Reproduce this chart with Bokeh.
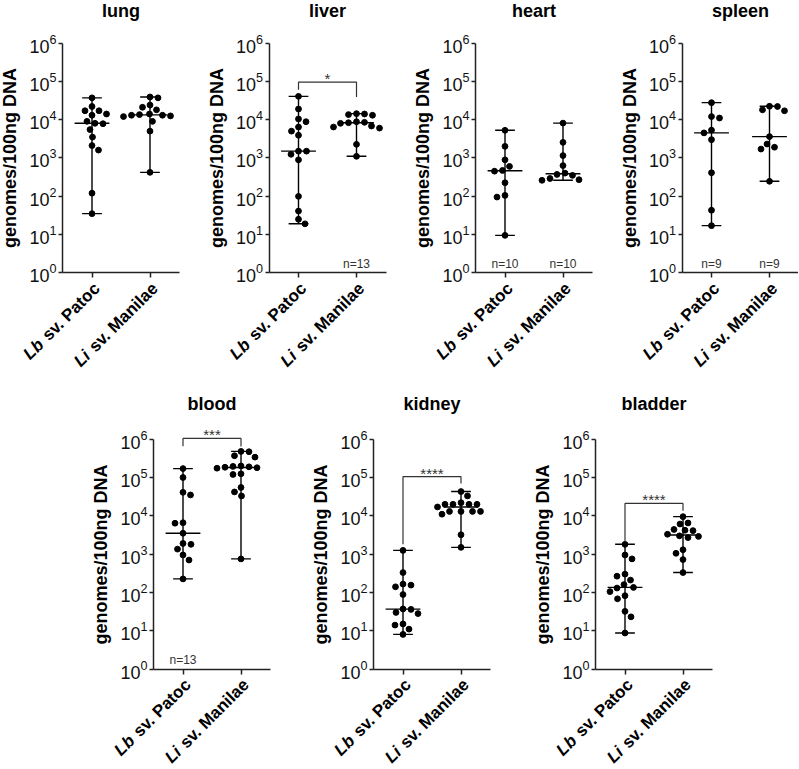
import numpy as np
from math import pi
from bokeh.plotting import figure
from bokeh.models import Label, FixedTicker, Range1d, Spacer
from bokeh.layouts import row, column
from bokeh.embed import file_html
from bokeh.resources import INLINE

# ---------------- data ----------------
cat_italic = ["Lb", "Li"]
cat_rest = ["sv. Patoc", "sv. Manilae"]
organs = ["lung", "liver", "heart", "spleen", "blood", "kidney", "bladder"]

lung_lb = [37000, 22000, 17000, 17000, 14000, 13000, 9000, 8000, 7800, 5500, 3500, 2100, 1600, 120, 35]
lung_li = [39000, 37000, 24000, 21000, 18000, 14000, 13500, 13000, 13000, 12500, 12000, 9000, 5000, 420]
liver_lb = [40500, 18900, 10400, 8800, 6400, 5000, 3900, 1500, 1500, 1240, 890, 99, 41, 25, 19]
liver_li = [14300, 14000, 13500, 13000, 8800, 8500, 8300, 8000, 6800, 6400, 6000, 2260, 1100]
heart_lb = [5250, 2000, 890, 600, 470, 450, 225, 105, 95, 9.5]
heart_li = [8100, 2550, 1150, 630, 400, 370, 350, 290, 270, 260]
spleen_lb = [27700, 12000, 11000, 5300, 4500, 3000, 410, 43, 17]
spleen_li = [22300, 22000, 18000, 17000, 3600, 2300, 1900, 1700, 245]
blood_lb = [171000, 100000, 41000, 35000, 6600, 6400, 3500, 1900, 1800, 1350, 950, 700, 225]
blood_li = [480000, 470000, 370000, 340000, 200000, 195000, 190000, 185000, 180000, 175000,
            125000, 120000, 55000, 42000, 33000, 750]
kidney_lb = [1250, 330, 165, 155, 140, 88, 37, 36, 30, 28, 15, 14, 11, 8]
kidney_li = [43000, 33000, 22000, 20000, 20000, 20000, 20000, 17000, 13000, 13000, 13000, 13000,
             11000, 3200, 1500]
bladder_lb = [1800, 950, 750, 300, 265, 210, 160, 135, 130, 105, 82, 68, 32, 23, 8.7]
bladder_li = [9500, 6500, 6100, 4400, 4200, 4100, 3300, 3000, 2900, 2700, 1300, 1050, 720, 330]

y_ticks = [1, 10, 100, 1000, 10000, 100000, 1000000]

# significance brackets: (bar level, left leg end, right leg end, label)
brackets = {
    "liver": (95000, 60000, 39000, "*"),
    "blood": (1050000, 650000, 640000, "***"),
    "kidney": (105000, 1800, 70000, "****"),
    "bladder": (21000, 2100, 13600, "****"),
}
# group sizes shown
n_labels = {
    "liver": [None, "n=13"],
    "heart": ["n=10", "n=10"],
    "spleen": ["n=9", "n=9"],
    "blood": ["n=13", None],
}

# ---------------- style / geometry ----------------
FONT = "Liberation Sans"
PPU = 58.0              # px per category unit
DEC = 38.3              # px per decade
AXL = 1 - 29.5 / PPU    # y-axis position in category units
AXR = AXL + 117 / PPU   # end of x axis
AX = "#222222"
BOLD_W = {" ": .278, "s": .556, "v": .556, ".": .278, "P": .667, "a": .556, "t": .333,
          "o": .611, "c": .556, "M": .833, "n": .611, "i": .278, "l": .278, "e": .556}
XL_FS = 17


def swarm_offsets(vals, dmin=7.8, step=0.5):
    ys = np.log10(np.asarray(vals, float)) * DEC
    order = np.argsort(-ys, kind="stable")
    placed = []
    out = np.zeros(len(ys))
    flip = 1
    for i in order:
        k = 0
        while True:
            cands = [0.0] if k == 0 else [flip * k * step, -flip * k * step]
            ok = None
            for c in cands:
                if all((c - px) ** 2 + (ys[i] - py) ** 2 >= dmin ** 2 for px, py in placed):
                    ok = c
                    break
            if ok is not None:
                break
            k += 1
        if ok != 0:
            flip = -flip
        placed.append((ok, ys[i]))
        out[i] = ok
    return out


def panel(name, lb, li, L, W, T, H, axis_x, y0, title_off):
    x1 = axis_x + 29.5
    xs = 1 - (x1 - L) / PPU
    xe = xs + W / PPU
    ye = 10 ** ((y0 - T) / DEC)
    ys = 10 ** (-(T + H - y0) / DEC)
    p = figure(width=W, height=H, x_range=Range1d(xs, xe), y_range=Range1d(ys, ye),
               y_axis_type="log", min_border=0, toolbar_location=None, output_backend="svg",
               background_fill_color="white", border_fill_color="white")
    p.outline_line_color = None
    p.grid.visible = False
    # y axis
    ya = p.yaxis[0]
    ya.fixed_location = AXL
    ya.ticker = FixedTicker(ticks=y_ticks, minor_ticks=[])
    ya.bounds = (1, 1e6)
    ya.axis_line_color = AX
    ya.axis_line_width = 1.5
    ya.major_tick_line_color = AX
    ya.major_tick_line_width = 1.5
    ya.major_tick_out = 4
    ya.major_tick_in = 0
    ya.minor_tick_line_color = None
    ya.major_label_text_font = FONT
    ya.major_label_text_font_size = "18px"
    ya.major_label_text_color = "#111111"
    ya.major_label_standoff = 2
    ya.axis_label = "genomes/100ng DNA"
    ya.axis_label_text_font = FONT
    ya.axis_label_text_font_size = "18px"
    ya.axis_label_text_font_style = "bold"
    ya.axis_label_text_color = "black"
    ya.axis_label_standoff = 6
    # x axis
    xa = p.xaxis[0]
    xa.fixed_location = 1
    xa.bounds = (AXL, AXR)
    xa.ticker = FixedTicker(ticks=[1, 2], minor_ticks=[])
    xa.major_label_overrides = {1: "", 2: ""}
    xa.major_label_text_font_size = "1px"
    xa.axis_line_color = AX
    xa.axis_line_width = 1.5
    xa.major_tick_line_color = AX
    xa.major_tick_line_width = 1.5
    xa.major_tick_out = 5
    xa.major_tick_in = 0
    xa.minor_tick_line_color = None

    # title
    p.add_layout(Label(x=1.5, y=1e6, y_offset=title_off, text=name, text_align="center",
                       text_baseline="middle", text_font=FONT, text_font_size="18px",
                       text_font_style="bold", text_color="black"))

    for c, vals in ((1, lb), (2, li)):
        v = np.asarray(vals, float)
        off = swarm_offsets(v) / PPU
        med = float(np.median(v))
        lo, hi = float(v.min()), float(v.max())
        p.segment(x0=[c, c - 0.17, c - 0.17, c - 0.30], y0=[lo, lo, hi, med],
                  x1=[c, c + 0.17, c + 0.17, c + 0.30], y1=[hi, lo, hi, med],
                  line_color="black", line_width=1.4)
        p.scatter(x=c + off, y=v, size=5.8, color="black", line_color="black")

    # x category labels (italic species + bold rest), rotated 45 degrees
    for i, c in enumerate((1, 2)):
        ax, ay = 5.0, 13.0
        w = (sum(BOLD_W[ch] for ch in cat_rest[i]) + BOLD_W[" "]) * XL_FS
        common = dict(x=c, y=1, angle=pi / 4, text_align="right", text_baseline="middle",
                      text_font=FONT, text_font_size=f"{XL_FS}px", text_color="black")
        p.add_layout(Label(text=cat_rest[i], x_offset=ax, y_offset=-ay,
                           text_font_style="bold", **common))
        p.add_layout(Label(text=cat_italic[i], x_offset=ax - w * 0.7071,
                           y_offset=-ay - w * 0.7071, text_font_style="bold italic", **common))

    if name in brackets:
        h, l_end, r_end, stars = brackets[name]
        p.line(x=[1, 1, 2, 2], y=[l_end, h, h, r_end], line_color="#333333", line_width=1.2)
        p.add_layout(Label(x=1.5, y=h, text=stars, text_align="center", text_baseline="bottom",
                           y_offset=-5, text_font=FONT, text_font_size="15px", text_color="#333333"))
    if name in n_labels:
        for c, t in zip((1, 2), n_labels[name]):
            if t:
                p.add_layout(Label(x=c, y=1, text=t, text_align="center",
                                   text_baseline="middle", y_offset=9, text_font=FONT,
                                   text_font_size="12px", text_color="#333333"))
    return p


data = {
    "lung": (lung_lb, lung_li), "liver": (liver_lb, liver_li), "heart": (heart_lb, heart_li),
    "spleen": (spleen_lb, spleen_li), "blood": (blood_lb, blood_li),
    "kidney": (kidney_lb, kidney_li), "bladder": (bladder_lb, bladder_li),
}

T1, H1, Y01 = 0, 385, 272.3
T2, H2, Y02 = 385, 383, 668.5
f1 = panel("lung", *data["lung"], L=0, W=206, T=T1, H=H1, axis_x=62, y0=Y01, title_off=32)
f2 = panel("liver", *data["liver"], L=206, W=206, T=T1, H=H1, axis_x=268.5, y0=Y01, title_off=32)
f3 = panel("heart", *data["heart"], L=412, W=206, T=T1, H=H1, axis_x=475, y0=Y01, title_off=32)
f4 = panel("spleen", *data["spleen"], L=618, W=180, T=T1, H=H1, axis_x=681.5, y0=Y01, title_off=32)
f5 = panel("blood", *data["blood"], L=80, W=225, T=T2, H=H2, axis_x=153, y0=Y02, title_off=35)
f6 = panel("kidney", *data["kidney"], L=305, W=210, T=T2, H=H2, axis_x=373, y0=Y02, title_off=35)
f7 = panel("bladder", *data["bladder"], L=515, W=250, T=T2, H=H2, axis_x=595, y0=Y02, title_off=35)

layout = column(row(f1, f2, f3, f4), row(Spacer(width=80, height=H2), f5, f6, f7))

open("out.html", "w").write(file_html(layout, INLINE))
